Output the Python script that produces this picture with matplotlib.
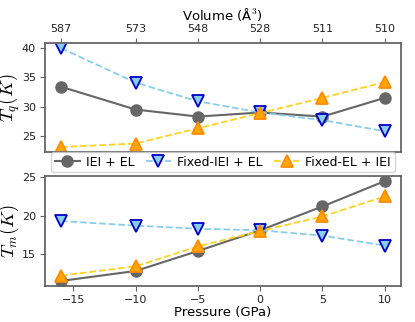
import numpy as np
import matplotlib
matplotlib.use("Agg")
import matplotlib.pyplot as plt

plt.rcParams['mathtext.fontset'] = 'cm'

pressure = [-16, -10, -5, 0, 5, 10]
volume_labels = ['587', '573', '548', '528', '511', '510']

# top panel: T_q (K)
tq_iei_el = [33.4, 29.5, 28.3, 29.0, 28.3, 31.5]
tq_fixed_iei = [40.0, 34.1, 30.9, 29.0, 27.7, 25.8]
tq_fixed_el = [23.1, 23.7, 26.3, 28.9, 31.5, 34.2]

# bottom panel: T_m (K)
tm_iei_el = [11.5, 12.8, 15.4, 18.1, 21.2, 24.5]
tm_fixed_iei = [19.3, 18.7, 18.3, 18.1, 17.4, 16.1]
tm_fixed_el = [12.2, 13.4, 16.0, 18.0, 19.9, 22.5]

fig = plt.figure(figsize=(4.15, 3.22), dpi=100)
ax1 = fig.add_axes([0.108, 0.528, 0.858, 0.338])
ax2 = fig.add_axes([0.108, 0.112, 0.858, 0.341])

spine_col = '#666666'


def draw(ax, a, b, c):
    ax.plot(pressure, a, '-o', color='#666666', ms=8, lw=1.5,
            label='IEI + EL')
    ax.plot(pressure, b, '--v', color='#87CEEB', mfc='#87CEEB', mec='#0000CD',
            mew=1.3, ms=8, lw=1.3, label='Fixed-IEI + EL')
    ax.plot(pressure, c, '--^', color='#FFD21F', mfc='#FFA500', mec='#FF8C00',
            mew=1.3, ms=8, lw=1.3, label='Fixed-EL + IEI')
    for s in ax.spines.values():
        s.set_color(spine_col)
        s.set_linewidth(1.3)
    ax.tick_params(colors=spine_col, labelcolor='#222222', labelsize=8,
                   pad=3)


draw(ax1, tq_iei_el, tq_fixed_iei, tq_fixed_el)
draw(ax2, tm_iei_el, tm_fixed_iei, tm_fixed_el)

ax1.xaxis.tick_top()
ax1.xaxis.set_label_position('top')
ax1.set_xticks(pressure)
ax1.set_xticklabels(volume_labels)
ax1.set_xlabel('Volume (Å$^3$)', fontsize=9.5, labelpad=3)
ax1.set_yticks([25, 30, 35, 40])
ax1.set_ylabel('$T_q(K)$', fontsize=13.5, va='center')

ax2.set_xticks([-15, -10, -5, 0, 5, 10])
ax2.set_yticks([15, 20, 25])
ax2.set_xlabel('Pressure (GPa)', fontsize=9.5, labelpad=1)
ax2.set_ylabel('$T_m(K)$', fontsize=13.5, va='center')
ax1.set_xlim(ax2.get_xlim())

# pull y labels in so they fit the narrow left margin
for ax in (ax1, ax2):
    ax.yaxis.set_label_coords(-0.1, 0.5)

ax2.legend(ncol=3, loc='lower center', bbox_to_anchor=(0.5, 1.0),
           fontsize=9, borderaxespad=0.3, handlelength=2.0,
           columnspacing=0.9, handletextpad=0.5, borderpad=0.3,
           edgecolor='#cccccc', fancybox=True)

fig.savefig('out.png', dpi=100)
